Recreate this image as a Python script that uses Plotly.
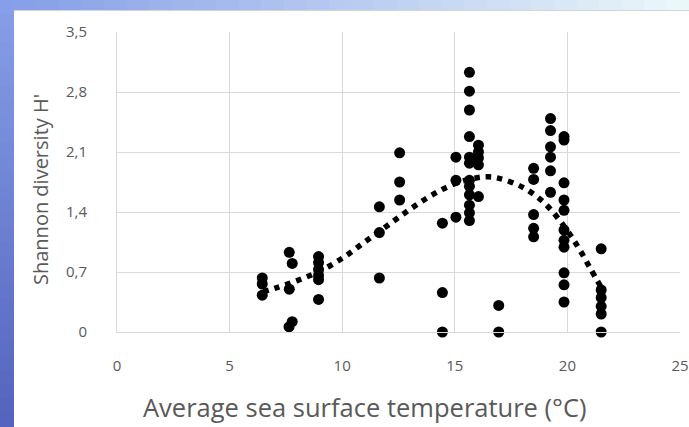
import plotly.graph_objects as go

# ---- data ----
temp_x = ([6.45] * 3 + [7.65, 7.78, 7.65, 7.78, 7.64] + [8.95] * 6 + [11.65] * 3 + [12.55] * 3
          + [14.45] * 3 + [15.05] * 3 + [15.65] * 12 + [16.05] * 5 + [16.95] * 2
          + [18.5] * 5 + [19.25] * 6 + [19.85] * 11 + [21.5] * 6)
shannon_h = ([0.63, 0.56, 0.43]
             + [0.93, 0.80, 0.50, 0.12, 0.06]
             + [0.88, 0.81, 0.73, 0.66, 0.61, 0.38]
             + [1.46, 1.16, 0.63]
             + [2.09, 1.75, 1.54]
             + [1.27, 0.46, 0.0]
             + [2.04, 1.77, 1.34]
             + [3.03, 2.81, 2.59, 2.28, 2.04, 1.97, 1.77, 1.70, 1.60, 1.48, 1.39, 1.30]
             + [2.18, 2.10, 2.03, 1.95, 1.58]
             + [0.31, 0.0]
             + [1.91, 1.78, 1.37, 1.21, 1.11]
             + [2.49, 2.35, 2.16, 2.04, 1.88, 1.63]
             + [2.28, 2.24, 1.74, 1.54, 1.42, 1.19, 1.07, 0.99, 0.69, 0.55, 0.35]
             + [0.97, 0.49, 0.40, 0.30, 0.21, 0.0])

trend_x = [6.5, 7.0, 8.0, 9.0, 10.0, 11.0, 12.0, 13.0, 14.0, 15.0, 16.0, 16.5, 17.0, 18.0, 19.0, 20.0, 20.5, 21.0, 21.5]
trend_y = [0.47, 0.51, 0.60, 0.71, 0.86, 1.05, 1.24, 1.43, 1.60, 1.73, 1.80, 1.81, 1.79, 1.69, 1.50, 1.18, 0.98, 0.75, 0.52]

x_ticks = [0, 5, 10, 15, 20, 25]
y_ticks = [0, 0.7, 1.4, 2.1, 2.8, 3.5]
y_tick_labels = ["0", "0,7", "1,4", "2,1", "2,8", "3,5"]

# ---- figure ----
W, H = 689, 427
L, R, T, B = 117, 9, 32, 95
PW, PH = W - L - R, H - T - B

def px_x(p):
    return (p - L) / PW

def px_y(p):
    return (H - B - p) / PH

shapes = []
# left blue strip gradient
n = 30
for i in range(n):
    t = i / (n - 1)
    c = (int(135 - 50 * t), int(158 - 58 * t), int(232 - 42 * t))
    shapes.append(dict(type="rect", xref="paper", yref="paper",
                       x0=px_x(0), x1=px_x(14),
                       y0=px_y(i * H / n), y1=px_y((i + 1) * H / n + 1),
                       fillcolor="rgb(%d,%d,%d)" % c, line=dict(width=0), layer="below"))
# top strip gradient
for i in range(n):
    t = i / (n - 1)
    c = (int(135 + 100 * t), int(160 + 88 * t), int(232 + 18 * t))
    shapes.append(dict(type="rect", xref="paper", yref="paper",
                       x0=px_x(14 + i * (W - 14) / n), x1=px_x(14 + (i + 1) * (W - 14) / n + 1),
                       y0=px_y(10), y1=px_y(0),
                       fillcolor="rgb(%d,%d,%d)" % c, line=dict(width=0), layer="below"))
shapes.append(dict(type="line", xref="paper", yref="paper",
                   x0=px_x(14), x1=px_x(W), y0=px_y(10.5), y1=px_y(10.5),
                   line=dict(color="#d4d4d4", width=1), layer="below"))

fig = go.Figure()
fig.add_trace(go.Scatter(x=temp_x, y=shannon_h, mode="markers",
                         marker=dict(color="black", size=11),
                         showlegend=False, cliponaxis=False))
fig.add_trace(go.Scatter(x=trend_x, y=trend_y, mode="lines",
                         line=dict(color="black", width=5.5, dash="5.5px,6px", shape="spline"),
                         showlegend=False))

font = "Open Sans, Liberation Sans, sans-serif"
gray = "#595959"
fig.update_layout(
    width=W, height=H,
    autosize=False,
    margin=dict(l=L, r=R, t=T, b=B, autoexpand=False),
    paper_bgcolor="white", plot_bgcolor="white",
    shapes=shapes,
    xaxis=dict(range=[0, 25], tickvals=x_ticks, ticktext=[str(v) for v in x_ticks],
               showgrid=True, gridcolor="#d9d9d9", gridwidth=1,
               zeroline=False, showline=True, linecolor="#d9d9d9", mirror=False,
               tickfont=dict(family=font, size=15, color=gray),
               ticks="", ticklabelstandoff=20, automargin=False),
    yaxis=dict(range=[0, 3.5], tickvals=y_ticks, ticktext=y_tick_labels,
               showgrid=True, gridcolor="#d9d9d9", gridwidth=1,
               zeroline=False, showline=True, linecolor="#d9d9d9",
               tickfont=dict(family=font, size=15, color=gray),
               ticks="", ticklabelstandoff=26, automargin=False),
    annotations=[
        dict(text="Average sea surface temperature (°C)", xref="paper", yref="paper",
             x=px_x(364.5), y=px_y(407), xanchor="center", yanchor="middle",
             showarrow=False, font=dict(family=font, size=25.5, color=gray)),
        dict(text="Shannon diversity H'", xref="paper", yref="paper",
             x=px_x(41), y=px_y(190), xanchor="center", yanchor="middle", textangle=-90,
             showarrow=False, font=dict(family=font, size=20, color=gray)),
    ],
)

fig.write_html("out.html", config={"responsive": False, "displayModeBar": False},
               post_script="document.body.style.margin='0';document.body.style.padding='0';document.body.style.overflow='hidden';")
